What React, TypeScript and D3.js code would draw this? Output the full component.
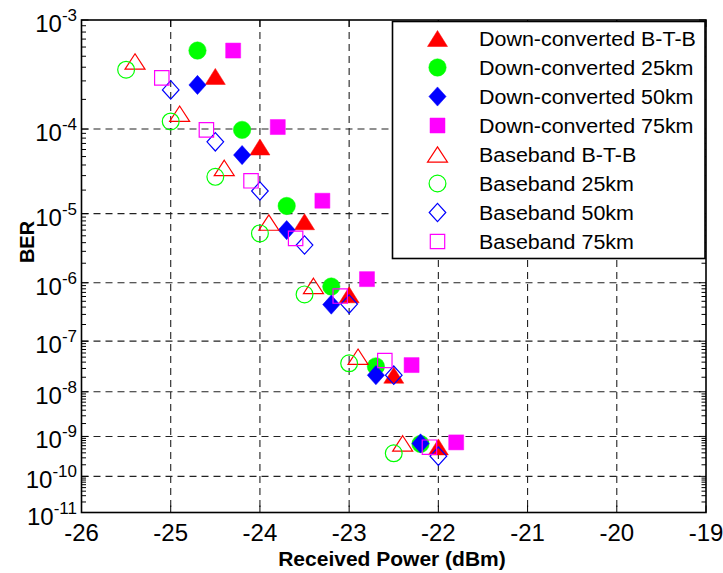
import React from "react";
import * as d3 from "d3";

// ---- data ----
const powerDCBTB = [-24.5, -24.0, -23.5, -23.0, -22.5, -22.0];
const berDCBTB = [3.3e-4, 6.4e-5, 7.8e-6, 6.4e-7, 2.2e-8, 5.6e-10];
const powerDC25 = [-24.7, -24.2, -23.7, -23.2, -22.7, -22.2];
const berDC25 = [5.6e-4, 9.8e-5, 1.26e-5, 8.7e-7, 3.3e-8, 6.6e-10];
const powerDC50 = [-24.7, -24.2, -23.7, -23.2, -22.7, -22.2];
const berDC50 = [2.75e-4, 5.2e-5, 6.0e-6, 4.4e-7, 2.2e-8, 6.8e-10];
const powerDC75 = [-24.3, -23.8, -23.3, -22.8, -22.3, -21.8];
const berDC75 = [5.6e-4, 1.05e-4, 1.47e-5, 1.14e-6, 3.5e-8, 7.2e-10];
const powerBBBTB = [-25.4, -24.9, -24.4, -23.9, -23.4, -22.9, -22.4];
const berBBBTB = [4.5e-4, 1.44e-4, 3.7e-5, 7.6e-6, 8.9e-7, 5.1e-8, 6.8e-10];
const powerBB25 = [-25.5, -25.0, -24.5, -24.0, -23.5, -23.0, -22.5];
const berBB25 = [3.8e-4, 1.2e-4, 2.9e-5, 5.4e-6, 6.5e-7, 3.8e-8, 3.9e-10];
const powerBB50 = [-25.0, -24.5, -24.0, -23.5, -23.0, -22.5, -22.0];
const berBB50 = [2.47e-4, 7.3e-5, 1.95e-5, 3.7e-6, 4.5e-7, 2.2e-8, 3.3e-10];
const powerBB75 = [-25.1, -24.6, -24.1, -23.6, -23.1, -22.6, -22.1];
const berBB75 = [3.2e-4, 9.8e-5, 2.6e-5, 4.6e-6, 6.1e-7, 4.3e-8, 5.5e-10];

const seriesNames = [
  "Down-converted B-T-B",
  "Down-converted 25km",
  "Down-converted 50km",
  "Down-converted 75km",
  "Baseband B-T-B",
  "Baseband 25km",
  "Baseband 50km",
  "Baseband 75km",
];
const xTicks = [-26, -25, -24, -23, -22, -21, -20, -19];
const yDecades = [3, 4, 5, 6, 7, 8, 9, 10, 11]; // BER = 10^-k

type Shape = "tri" | "circ" | "dia" | "sq";
const series = [
  { name: seriesNames[0], p: powerDCBTB, b: berDCBTB, shape: "tri" as Shape, color: "#ff0000", filled: true },
  { name: seriesNames[1], p: powerDC25, b: berDC25, shape: "circ" as Shape, color: "#00ff00", filled: true },
  { name: seriesNames[2], p: powerDC50, b: berDC50, shape: "dia" as Shape, color: "#0000ff", filled: true },
  { name: seriesNames[3], p: powerDC75, b: berDC75, shape: "sq" as Shape, color: "#ff00ff", filled: true },
  { name: seriesNames[4], p: powerBBBTB, b: berBBBTB, shape: "tri" as Shape, color: "#ff0000", filled: false },
  { name: seriesNames[5], p: powerBB25, b: berBB25, shape: "circ" as Shape, color: "#00ff00", filled: false },
  { name: seriesNames[6], p: powerBB50, b: berBB50, shape: "dia" as Shape, color: "#0000ff", filled: false },
  { name: seriesNames[7], p: powerBB75, b: berBB75, shape: "sq" as Shape, color: "#ff00ff", filled: false },
];

const L = 81.5, R = 706, T = 20, B = 512.5;
const FONT = "'Liberation Sans', Arial, Helvetica, sans-serif";

const x = d3.scaleLinear().domain([-26, -19]).range([L, R]);
const yk = d3.scaleLog().domain([3, 11]).range([T, B]);
const y = (ber: number) => yk(-Math.log10(ber));

function markerPath(shape: Shape, filled: boolean): string {
  if (shape === "tri") {
    const w = 10, h = filled ? 8 : 7.7;
    return `M0,${-h}L${w},${h}L${-w},${h}Z`;
  }
  if (shape === "dia") {
    const w = filled ? 8.6 : 8.3, h = filled ? 9.6 : 9.2;
    return `M0,${-h}L${w},0L0,${h}L${-w},0Z`;
  }
  if (shape === "sq") {
    const s = filled ? 7.5 : 7.2;
    return `M${-s},${-s}H${s}V${s}H${-s}Z`;
  }
  const r = filled ? 8.7 : 8.4;
  return `M${r},0A${r},${r} 0 1,1 ${-r},0A${r},${r} 0 1,1 ${r},0Z`;
}

function Marker({ cx, cy, shape, color, filled }: any) {
  return (
    <path
      transform={`translate(${cx},${cy})`}
      d={markerPath(shape, filled)}
      fill={filled ? color : "none"}
      stroke={color}
      strokeWidth={filled ? 0.5 : 1.2}
    />
  );
}

export default function App() {
  const minor: number[] = [];
  for (let n = 3; n < 11; n++) {
    for (let m = 2; m <= 9; m++) minor.push(n + 1 - Math.log10(m));
  }
  const gridX = xTicks.slice(1, -1);
  const gridY = yDecades.slice(1, -1);
  const legX = 392.5, legY = 21.5, legW = 312.5, legH = 237;
  return (
    <svg width={723} height={573} style={{ position: "absolute", left: 0, top: 0, background: "#fff" }}>
      <rect x={0} y={0} width={723} height={573} fill="#fff" />
      {/* grid */}
      <g stroke="#222" strokeWidth={1.1} strokeDasharray="7,5" fill="none">
        {gridX.map((v) => (
          <line key={"gx" + v} x1={x(v)} x2={x(v)} y1={T} y2={B} />
        ))}
        {gridY.map((k) => (
          <line key={"gy" + k} x1={L} x2={R} y1={yk(k)} y2={yk(k)} />
        ))}
      </g>
      {/* ticks */}
      <g stroke="#000" strokeWidth={1}>
        {xTicks.map((v) => (
          <g key={"xt" + v}>
            <line x1={x(v)} x2={x(v)} y1={B} y2={B - 7} />
            <line x1={x(v)} x2={x(v)} y1={T} y2={T + 7} />
          </g>
        ))}
        {yDecades.map((k) => (
          <g key={"yt" + k}>
            <line x1={L} x2={L + 7} y1={yk(k)} y2={yk(k)} />
            <line x1={R} x2={R - 7} y1={yk(k)} y2={yk(k)} />
          </g>
        ))}
        {minor.map((k, i) => (
          <g key={"ym" + i}>
            <line x1={L} x2={L + 4.5} y1={yk(k)} y2={yk(k)} />
            <line x1={R} x2={R - 4.5} y1={yk(k)} y2={yk(k)} />
          </g>
        ))}
      </g>
      {/* axes box */}
      <rect x={L} y={T} width={R - L} height={B - T} fill="none" stroke="#000" strokeWidth={1.6} />
      {/* data */}
      {series.map((s, si) => (
        <g key={"s" + si}>
          {s.p.map((p, i) => (
            <Marker key={i} cx={x(p)} cy={y(s.b[i])} shape={s.shape} color={s.color} filled={s.filled} />
          ))}
        </g>
      ))}
      {/* tick labels */}
      <g fontFamily={FONT} fill="#000">
        {xTicks.map((v) => (
          <text key={"xl" + v} x={x(v)} y={541} fontSize={24} textAnchor="middle">
            {v}
          </text>
        ))}
        {yDecades.map((k) => (
          <text key={"yl" + k} x={77} y={yk(k) + 12} textAnchor="end">
            <tspan fontSize={24}>10</tspan>
            <tspan fontSize={17} dy={-11}>{"-" + k}</tspan>
          </text>
        ))}
        <text x={392} y={566} fontSize={21} fontWeight="bold" textAnchor="middle">
          Received Power (dBm)
        </text>
        <text
          transform={`translate(34,242) rotate(-90)`}
          fontSize={20}
          fontWeight="bold"
          textAnchor="middle"
        >
          BER
        </text>
      </g>
      {/* legend */}
      <rect x={legX} y={legY} width={legW} height={legH} fill="#fff" stroke="#000" strokeWidth={1.6} />
      {series.map((s, i) => {
        const ry = 38.5 + i * 29;
        return (
          <g key={"lg" + i}>
            <Marker cx={437.5} cy={ry} shape={s.shape} color={s.color} filled={s.filled} />
            <text
              transform={`translate(479,${ry + 7}) scale(1.1,1)`}
              fontFamily={FONT}
              fontSize={19.5}
              fill="#000"
            >
              {s.name}
            </text>
          </g>
        );
      })}
    </svg>
  );
}
